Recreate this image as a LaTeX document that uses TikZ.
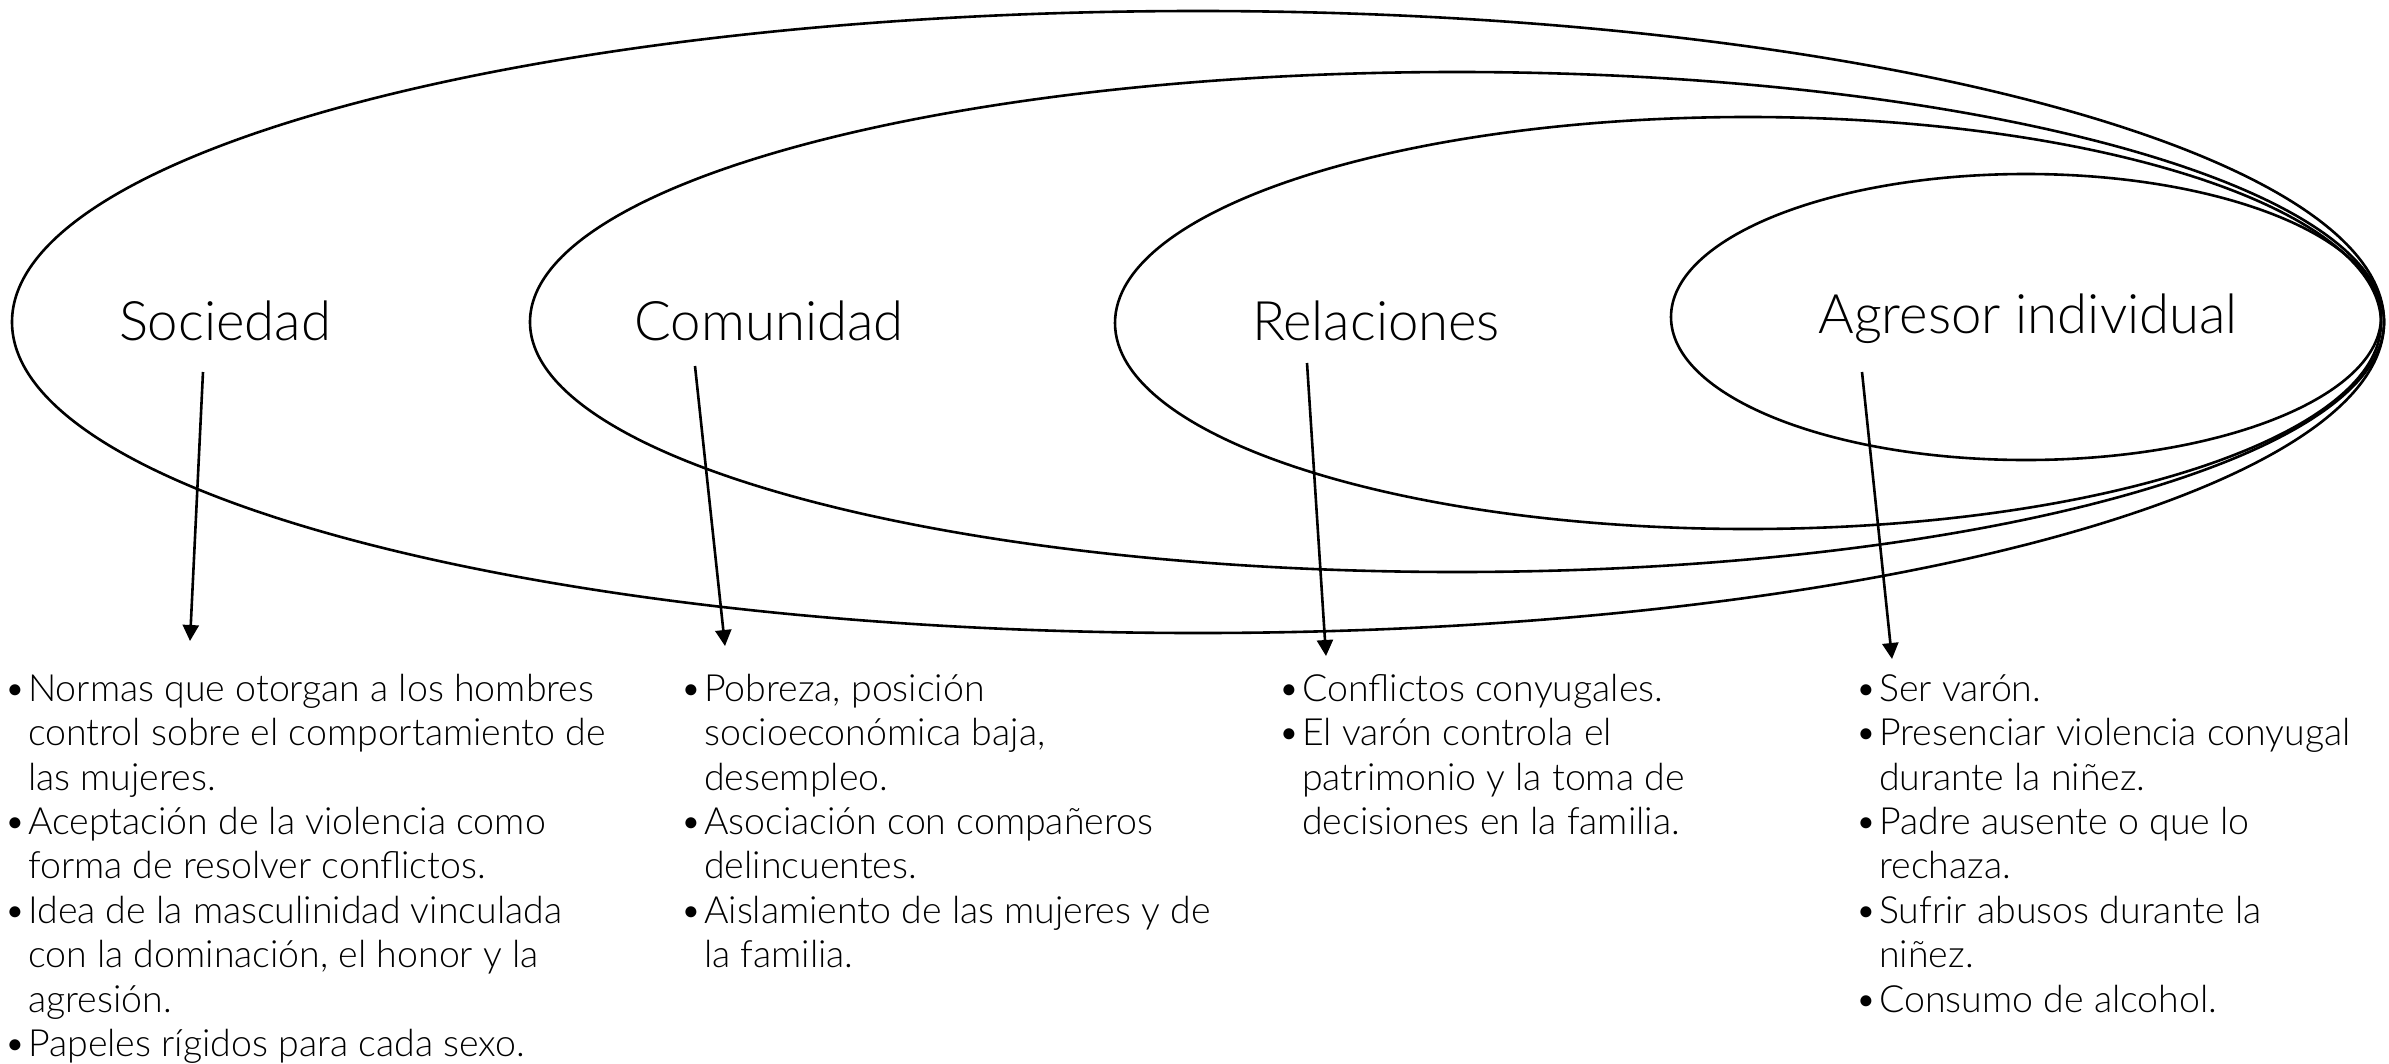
\documentclass[tikz,border=0pt]{standalone}
\usepackage{fontspec}
\setmainfont{Lato Light}
\usetikzlibrary{arrows.meta}

\newcommand{\bul}{\strut\rlap{\hspace*{-10pt}\textbullet}\hspace*{14pt}}
\newcommand{\ind}{\hspace*{14pt}}

\begin{document}
\begin{tikzpicture}[x=1pt,y=-1pt,
    ring/.style={line width=2.6pt},
    level/.style={font=\fontsize{54.5}{60}\selectfont,inner sep=0pt,anchor=base},
    factors/.style={font=\fontsize{37.5}{44.4}\selectfont,align=left,
                    anchor=north west,inner sep=0pt},
    arr/.style={line width=2.6pt,-{Triangle[width=16pt,length=16pt]}}]
  \useasboundingbox (0,0) rectangle (2389,1063);

  % nested rings
  \draw [ring] (1198,322) ellipse [x radius=1186pt, y radius=311pt];
  \draw [ring] (1457,322) ellipse [x radius=927pt,  y radius=250pt];
  \draw [ring] (1748,323) ellipse [x radius=633pt,  y radius=206pt];
  \draw [ring] (2026,317) ellipse [x radius=355pt,  y radius=143pt];

  % ring names
  \node (soc) [level] at (225,340)  {Sociedad};
  \node (com) [level] at (769,340)  {Comunidad};
  \node (rel) [level] at (1376,340) {Relaciones};
  \node (agr) [level] at (2028,333) {Agresor individual};

  % factor lists
  \node (socf) [factors] at (14,670) {%
    \bul Normas que otorgan a los hombres\\
    \ind control sobre el comportamiento de\\
    \ind las mujeres.\\
    \bul Aceptación de la violencia como\\
    \ind forma de resolver conflictos.\\
    \bul Idea de la masculinidad vinculada\\
    \ind con la dominación, el honor y la\\
    \ind agresión.\\
    \bul Papeles rígidos para cada sexo.};
  \node (comf) [factors] at (690,670) {%
    \bul Pobreza, posición\\
    \ind socioeconómica baja,\\
    \ind desempleo.\\
    \bul Asociación con compañeros\\
    \ind delincuentes.\\
    \bul Aislamiento de las mujeres y de\\
    \ind la familia.};
  \node (relf) [factors] at (1288,670) {%
    \bul Conflictos conyugales.\\
    \bul El varón controla el\\
    \ind patrimonio y la toma de\\
    \ind decisiones en la familia.};
  \node (agrf) [factors] at (1865,670) {%
    \bul Ser varón.\\
    \bul Presenciar violencia conyugal\\
    \ind durante la niñez.\\
    \bul Padre ausente o que lo\\
    \ind rechaza.\\
    \bul Sufrir abusos durante la\\
    \ind niñez.\\
    \bul Consumo de alcohol.};

  % arrow ends
  \coordinate (soc1) at (203,372);
  \coordinate (soc2) at (190,641);
  \coordinate (com1) at (695,366);
  \coordinate (com2) at (725,646);
  \coordinate (rel1) at (1307,363);
  \coordinate (rel2) at (1326,656);
  \coordinate (agr1) at (1862,372);
  \coordinate (agr2) at (1892,659);

  \draw [arr] (soc1) -- (soc2);
  \draw [arr] (com1) -- (com2);
  \draw [arr] (rel1) -- (rel2);
  \draw [arr] (agr1) -- (agr2);
\end{tikzpicture}
\end{document}
